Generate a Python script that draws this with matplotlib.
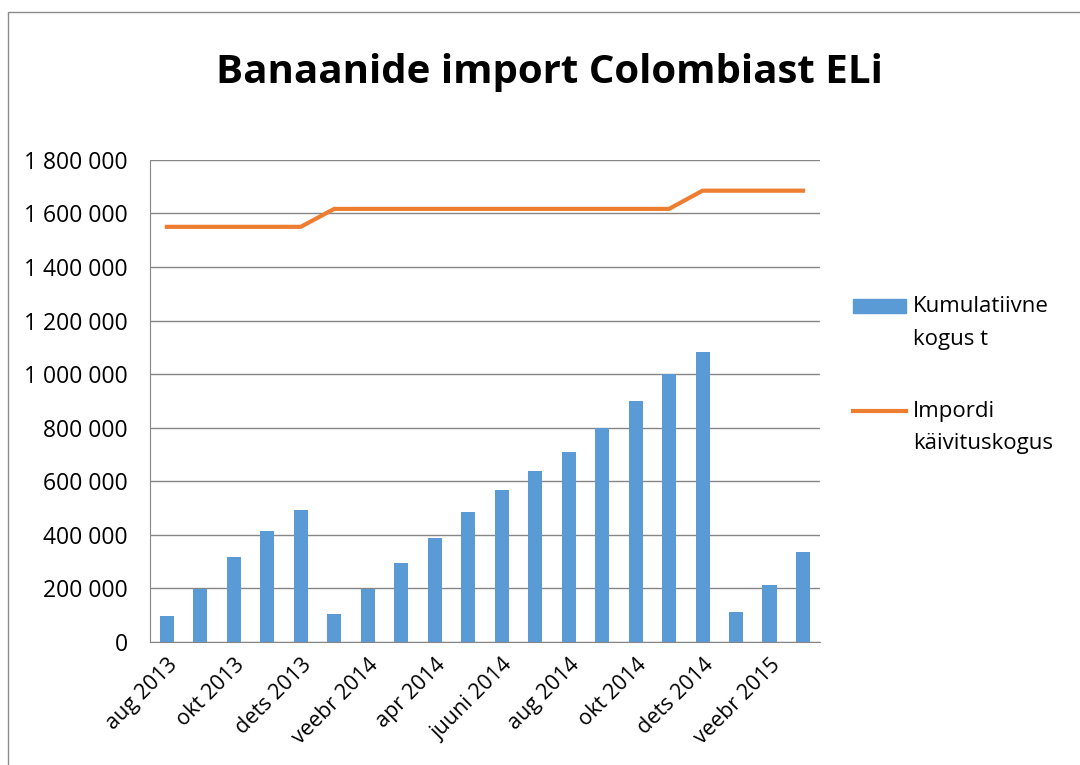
import matplotlib
matplotlib.use('Agg')
import matplotlib.pyplot as plt
from matplotlib.ticker import FuncFormatter, MultipleLocator
from matplotlib.patches import Rectangle
from matplotlib.lines import Line2D

# kuud (aug 2013 - märts 2015)
months = ['aug 2013', 'sept 2013', 'okt 2013', 'nov 2013', 'dets 2013',
          'jaan 2014', 'veebr 2014', 'märts 2014', 'apr 2014', 'mai 2014',
          'juuni 2014', 'juuli 2014', 'aug 2014', 'sept 2014', 'okt 2014',
          'nov 2014', 'dets 2014', 'jaan 2015', 'veebr 2015', 'märts 2015']
# kumulatiivne kogus t
cumulative = [96000, 199000, 317000, 413000, 494000,
              103000, 199000, 295000, 388000, 484000,
              567000, 639000, 710000, 800000, 900000,
              999000, 1083000, 111000, 212000, 336000]
# impordi käivituskogus
trigger = [1550000, 1550000, 1550000, 1550000, 1550000,
           1617000, 1617000, 1617000, 1617000, 1617000,
           1617000, 1617000, 1617000, 1617000, 1617000,
           1617000, 1685000, 1685000, 1685000, 1685000]

bar_color = '#5B9BD5'
line_color = '#ED7D31'

plt.rcParams['font.family'] = ['Open Sans', 'DejaVu Sans']

fig = plt.figure(figsize=(10.8, 7.65), dpi=100)
ax = fig.add_axes([0.139, 0.161, 0.620, 0.630])

x = list(range(len(months)))
ax.bar(x, cumulative, width=0.42, color=bar_color, zorder=2)
ax.plot(x, trigger, color=line_color, linewidth=3, zorder=3)

ax.set_xlim(-0.5, len(months) - 0.5)
ax.set_ylim(0, 1800000)
ax.yaxis.set_major_locator(MultipleLocator(200000))
ax.yaxis.set_major_formatter(FuncFormatter(lambda v, p: '{:,.0f}'.format(v).replace(',', ' ')))
ax.grid(axis='y', color='#868686', linewidth=1, zorder=0)

ax.set_xticks(x[::2])
ax.set_xticklabels(months[::2], rotation=45, ha='right', rotation_mode='anchor')
ax.tick_params(axis='x', length=0, labelsize=15.5, colors='#000000', pad=9)
ax.tick_params(axis='y', length=0, labelsize=16.5, colors='#000000', pad=16)

for s in ['top', 'right']:
    ax.spines[s].set_visible(False)
ax.spines['left'].set_color('#868686')
ax.spines['bottom'].set_color('#868686')

fig.text(0.509, 0.905, 'Banaanide import Colombiast ELi', ha='center', va='center',
         fontsize=29, fontweight='bold')

# legend (käsitsi, et märk oleks esimese rea kõrgusel)
fw, fh = 1080.0, 765.0
fig.patches.append(Rectangle((853 / fw, 1 - 313 / fh), 53 / fw, 14 / fh,
                             transform=fig.transFigure, color=bar_color))
fig.text(913 / fw, 1 - 307 / fh, 'Kumulatiivne', ha='left', va='center', fontsize=16)
fig.text(913 / fw, 1 - 339 / fh, 'kogus t', ha='left', va='center', fontsize=16)
fig.lines.append(Line2D([853 / fw, 906 / fw], [1 - 411 / fh, 1 - 411 / fh],
                        transform=fig.transFigure, color=line_color, linewidth=3))
fig.text(913 / fw, 1 - 411 / fh, 'Impordi', ha='left', va='center', fontsize=16)
fig.text(913 / fw, 1 - 443 / fh, 'käivituskogus', ha='left', va='center', fontsize=16)

# ramjoon
fig.patches.append(Rectangle((0.0074, -0.1), 1.2, 1.084, transform=fig.transFigure,
                             fill=False, edgecolor='#8c8c8c', linewidth=1))

fig.savefig('out.png', dpi=100)
